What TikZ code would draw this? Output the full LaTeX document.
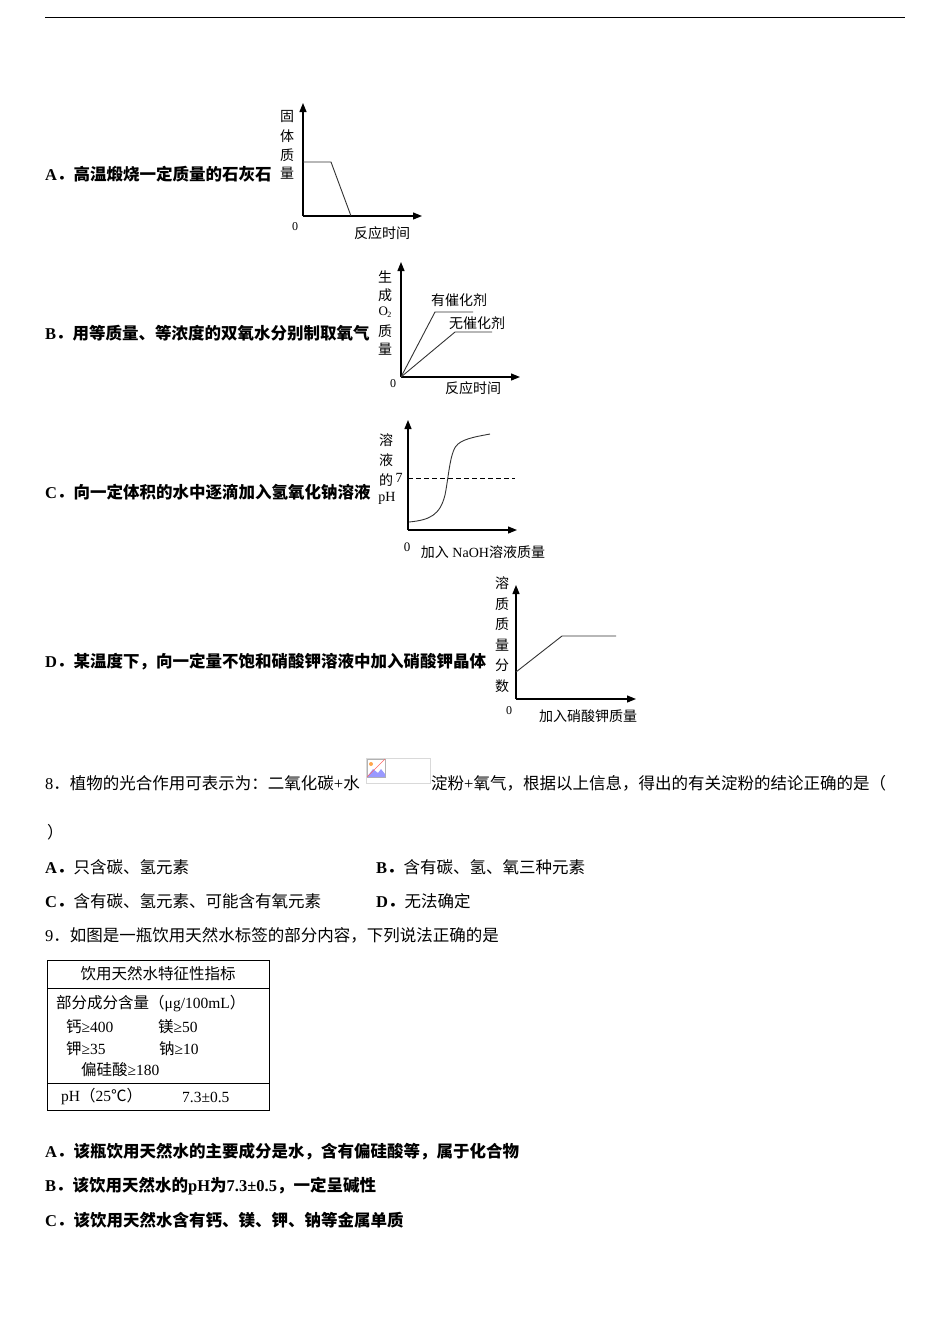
\documentclass[tikz,border=0pt]{standalone}
\usepackage{fontspec}
\setmainfont{Noto Sans CJK SC}
\newfontfamily\lat{Liberation Serif}
\usetikzlibrary{arrows.meta}
\tikzset{
 txt/.style={anchor=west,inner sep=0pt,font=\fontsize{16.5}{17}\selectfont},
 opt/.style={txt,font=\fontsize{16.5}{17}\selectfont\bfseries},
 lab/.style={inner sep=0pt,font=\fontsize{14}{15}\selectfont},
 ax/.style={line width=1.2pt,-{Triangle[length=9pt,width=7pt]}},
 crv/.style={line width=0.9pt,gray!40!black},
}
\begin{document}
\begin{tikzpicture}[x=1pt,y=-1pt]
\useasboundingbox (0,0) rectangle (950,1344);
\draw[line width=0.8pt] (45,17) -- (905,17);
% A
\node[opt] (ta) at (45,174) {{\lat A}．高温煅烧一定质量的石灰石};
\coordinate (oa) at (303,216);
\draw[ax] (oa) -- (303,103);
\draw[ax] (oa) -- (422,216);
\draw[crv] (oa|-0,162) -- (331,162) -- (351,216);
\foreach \c/\y in {固/117,体/136,质/155,量/173} \node[lab] at (287,\y) {\c};
\node[lab,font=\lat\fontsize{12}{12}\selectfont] (za) at (295,227) {0};
\node[lab] (xa) at (382,233) {反应时间};
% B
\node[opt] (tb) at (45,333) {{\lat B}．用等质量、等浓度的双氧水分别制取氧气};
\coordinate (ob) at (401,377);
\draw[ax] (ob) -- (401,262);
\draw[ax] (ob) -- (520,377);
\draw[crv] (ob) -- (435,312) -- (473,312);
\draw[crv] (ob) -- (455,332) -- (492,332);
\node[lab] (cat1) at (459,300) {有催化剂};
\node[lab] (cat2) at (477,323) {无催化剂};
\foreach \c/\y in {生/277,成/295,质/331,量/349} \node[lab] at (385,\y) {\c};
\node[lab,font=\lat\fontsize{13}{14}\selectfont] at (385,312) {O\kern-0.5pt\raisebox{-2pt}{\fontsize{8}{8}\selectfont 2}};
\node[lab,font=\lat\fontsize{12}{12}\selectfont] at (393,384) {0};
\node[lab] at (473,388) {反应时间};
% C
\node[opt] (tc) at (45,492) {{\lat C}．向一定体积的水中逐滴加入氢氧化钠溶液};
\coordinate (oc) at (408,530);
\draw[ax] (oc) -- (408,420);
\draw[ax] (oc) -- (517,530);
\draw[line width=0.8pt,dash pattern=on 5pt off 3pt] (408,478) -- (515,478);
\node[lab,font=\lat\fontsize{14}{14}\selectfont] at (399,478) {7};
\foreach \c/\y in {溶/440,液/460,的/480} \node[lab] at (386,\y) {\c};
\node[lab,font=\lat\fontsize{14}{14}\selectfont] at (387,498) {pH};
\draw[crv] (409,522) .. controls (430,520) and (440,515) .. (445,495)
  .. controls (449,475) and (450,450) .. (458,444) .. controls (465,438) and (480,436) .. (490,434);
\node[lab,font=\lat\fontsize{13}{13}\selectfont] at (407,547) {0};
\node[lab] at (483,552) {加入{\lat\ NaOH}溶液质量};
% D
\node[opt] (td) at (45,662) {{\lat D}．某温度下，向一定量不饱和硝酸钾溶液中加入硝酸钾晶体};
\coordinate (od) at (516,699);
\draw[ax] (od) -- (516,585);
\draw[ax] (od) -- (636,699);
\draw[crv] (516,672) -- (562,636) -- (616,636);
\foreach \c/\y in {溶/583,质/604,质/624,量/645,分/665,数/686} \node[lab] at (502,\y) {\c};
\node[lab,font=\lat\fontsize{12}{12}\selectfont] at (509,711) {0};
\node[lab] at (588,716) {加入硝酸钾质量};
% Q8
\node[txt] (q8) at (45,783) {{\lat 8}．植物的光合作用可表示为：二氧化碳{\lat +}水};
\node[draw=gray!30,minimum width=64pt,minimum height=25pt,inner sep=0pt,anchor=north west] (img) at (366,758) {};
\draw[gray!60,fill=white] (367,759) rectangle (385,777);
\fill[blue!40] (367,777) -- (373,769) -- (378,773) -- (381,769) -- (385,774) -- (385,777) -- cycle;
\fill[orange!70] (371,764) circle (2);
\draw[red!60] (367,777) -- (385,759);
\node[txt] (q8b) at (431,783) {淀粉{\lat +}氧气，根据以上信息，得出的有关淀粉的结论正确的是（};
\node[txt] at (47,832) {）};
\node[txt] at (45,867) {{\lat\bfseries A}\textbf{．}只含碳、氢元素};
\node[txt] at (376,867) {{\lat\bfseries B}\textbf{．}含有碳、氢、氧三种元素};
\node[txt] at (45,901) {{\lat\bfseries C}\textbf{．}含有碳、氢元素、可能含有氧元素};
\node[txt] at (376,901) {{\lat\bfseries D}\textbf{．}无法确定};
% Q9
\node[txt] (q9) at (45,935) {{\lat 9}．如图是一瓶饮用天然水标签的部分内容，下列说法正确的是};
\draw[line width=0.9pt] (47,960) rectangle (269,1110);
\draw[line width=0.9pt] (47,988) -- (269,988);
\draw[line width=0.9pt] (47,1083) -- (269,1083);
\tikzset{tb/.style={anchor=west,inner sep=0pt,font=\fontsize{15.5}{16}\selectfont}}
\node[inner sep=0pt,font=\fontsize{15.5}{16}\selectfont] at (158,974) {饮用天然水特征性指标};
\node[tb] at (56,1004) {部分成分含量（{\lat μg/100mL}）};
\node[tb] at (66,1027) {钙{\lat ≥400}};
\node[tb] at (158,1027) {镁{\lat ≥50}};
\node[tb] at (66,1049) {钾{\lat ≥35}};
\node[tb] at (159,1049) {钠{\lat ≥10}};
\node[tb] at (81,1070) {偏硅酸{\lat ≥180}};
\node[tb] at (61,1097) {{\lat pH}（{\lat 25}℃）};
\node[tb] at (182,1097) {{\lat 7.3±0.5}};
% answers
\node[opt] at (45,1152) {{\lat A}．该瓶饮用天然水的主要成分是水，含有偏硅酸等，属于化合物};
\node[opt] at (45,1186) {{\lat B}．该饮用天然水的{\lat pH}为{\lat 7.3±0.5}，一定呈碱性};
\node[opt] at (45,1220) {{\lat C}．该饮用天然水含有钙、镁、钾、钠等金属单质};
\end{tikzpicture}
\end{document}
